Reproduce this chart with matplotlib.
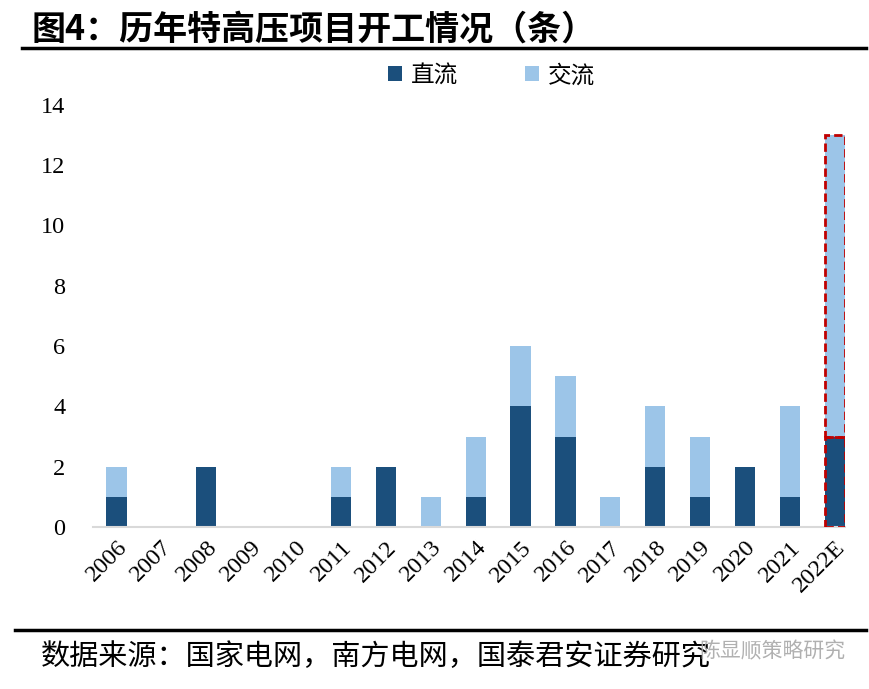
import numpy as np
import matplotlib.pyplot as plt
from matplotlib.lines import Line2D
from matplotlib.patches import Rectangle

plt.rcParams['font.family'] = ['Liberation Serif', 'Noto Sans CJK SC', 'DejaVu Sans']

years = ['2006', '2007', '2008', '2009', '2010', '2011', '2012', '2013', '2014',
         '2015', '2016', '2017', '2018', '2019', '2020', '2021', '2022E']
dc = [1, 0, 2, 0, 0, 1, 2, 0, 1, 4, 3, 0, 2, 1, 2, 1, 3]
ac = [1, 0, 0, 0, 0, 1, 0, 1, 2, 2, 2, 1, 2, 2, 0, 3, 10]

dark = '#1b4f7c'
light = '#9cc5e8'

fig = plt.figure(figsize=(8.7, 6.89), dpi=100)
ax = fig.add_axes([0.107, 0.235, 0.864, 0.613])

x = np.arange(len(years))
w = 0.45
ax.bar(x, dc, w, color=dark, label='直流')
ax.bar(x, ac, w, bottom=dc, color=light, label='交流')

# highlight the forecast bar
last = len(years) - 1
ax.add_patch(Rectangle((x[last] - w / 2, 0), w, dc[last], fill=False,
                       edgecolor='#c00000', linestyle=(0, (3, 1.5)), lw=2, zorder=3))
ax.add_patch(Rectangle((x[last] - w / 2, dc[last]), w, ac[last], fill=False,
                       edgecolor='#c00000', linestyle=(0, (3, 1.5)), lw=2, zorder=3))

ax.set_xlim(-0.52, 16.22)
ax.set_ylim(0, 14)
ax.set_yticks(range(0, 15, 2))
ax.set_xticks(x)
ax.set_xticklabels(years, rotation=45, ha='right', rotation_mode='anchor')
ax.tick_params(axis='both', length=0, labelsize=17.5, colors='black')
ax.tick_params(axis='x', pad=7)
ax.tick_params(axis='y', pad=20)
for s in ['top', 'right', 'left']:
    ax.spines[s].set_visible(False)
ax.spines['bottom'].set_color('#d9d9d9')
ax.spines['bottom'].set_linewidth(1.5)

fig.legend(loc='center', bbox_to_anchor=(0.565, 0.89), ncol=2, frameon=False,
           handlelength=0.6, handleheight=0.6, handletextpad=0.4, columnspacing=2.8,
           prop={'family': ['Noto Sans CJK SC'], 'size': 17})

fig.text(0.036, 0.958, '图4：历年特高压项目开工情况（条）', fontsize=24.5, fontweight='bold',
         family=['Noto Sans CJK SC'], va='center')
fig.add_artist(Line2D([0.025, 0.995], [0.930, 0.930], color='black', lw=2.5))
fig.add_artist(Line2D([0.017, 0.995], [0.085, 0.085], color='black', lw=2.5))
fig.text(0.047, 0.046, '数据来源：国家电网，南方电网，国泰君安证券研究', fontsize=21,
         family=['Noto Sans CJK SC'], va='center')
fig.text(0.888, 0.054, '陈显顺策略研究', fontsize=15, color='#a8a8a8',
         family=['Noto Sans CJK SC'], va='center', ha='center', alpha=0.9)

fig.savefig('out.png', dpi=100)
